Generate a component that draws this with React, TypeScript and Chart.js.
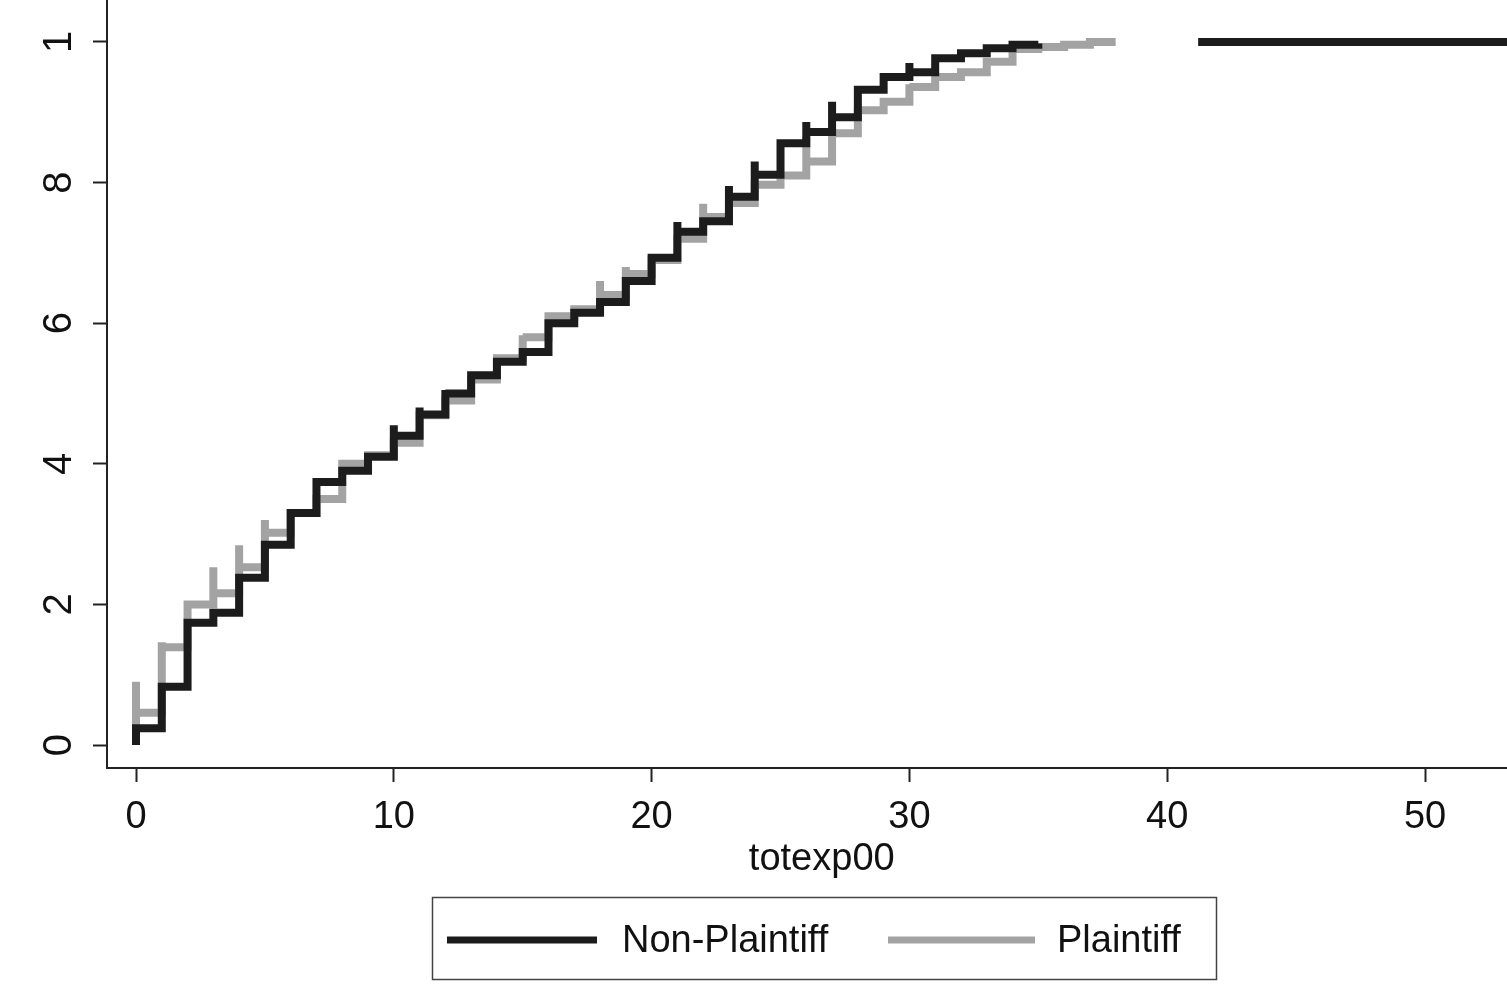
import React, { useEffect, useRef } from "react";
import { Chart, registerables } from "chart.js";

Chart.register(...registerables);

// ---- data ----
const xSteps = [
  0, 1, 2, 3, 4, 5, 6, 7, 8, 9, 10, 11, 12, 13, 14, 15, 16, 17, 18, 19,
  20, 21, 22, 23, 24, 25, 26, 27, 28, 29, 30, 31, 32, 33, 34, 35, 36, 37, 38,
];

const nonPlaintiffLevels = [
  0.024, 0.083, 0.174, 0.188, 0.238, 0.285, 0.33, 0.374, 0.39, 0.41,
  0.44, 0.47, 0.5, 0.526, 0.545, 0.559, 0.6, 0.615, 0.63, 0.66,
  0.693, 0.73, 0.745, 0.78, 0.811, 0.856, 0.872, 0.893, 0.932, 0.95,
  0.957, 0.977, 0.984, 0.991, 0.996, 0.998,
];
const nonPlaintiffPeaks = [
  null, null, null, null, null, null, null, null, null, null,
  0.455, 0.48, 0.505, null, null, null, null, null, null, null,
  null, 0.744, null, 0.795, 0.83, null, 0.886, 0.915, null, null,
  0.97, null, null, null, null, null,
];
const nonPlaintiffTailX = [41.2, 55];
const nonPlaintiffTailY = [1, 1];

const plaintiffLevels = [
  0.046, 0.139, 0.2, 0.216, 0.253, 0.302, 0.33, 0.35, 0.4, 0.412,
  0.43, 0.469, 0.49, 0.52, 0.55, 0.58, 0.61, 0.62, 0.64, 0.67,
  0.69, 0.72, 0.751, 0.771, 0.797, 0.81, 0.83, 0.87, 0.903, 0.915,
  0.936, 0.95, 0.957, 0.972, 0.99, 0.993, 0.996, 1.0, 1.0,
];
const plaintiffPeaks = [
  0.09, 0.146, null, 0.253, 0.284, 0.32, null, null, null, null,
  null, null, null, null, null, 0.583, null, null, 0.66, 0.68,
  null, null, 0.77, null, null, null, 0.865, 0.878, 0.907, null,
  0.94, null, null, null, null, null, null, null, null,
];

const seriesNames = ["Non-Plaintiff", "Plaintiff"];
const xTickValues = [0, 10, 20, 30, 40, 50];
const yTickValues = [0, 0.2, 0.4, 0.6, 0.8, 1];
const yTickLabels = ["0", "2", "4", "6", "8", "1"];
const xAxisTitle = "totexp00";

const BLACK = "#1c1c1c";
const GRAY = "#a3a3a3";
const FONT = '"Liberation Sans", Arial, sans-serif';

type Pt = { x: number; y: number | null };

function buildSteps(levels: number[], peaks: (number | null)[]): Pt[] {
  const pts: Pt[] = [{ x: xSteps[0], y: 0 }];
  levels.forEach((lv, i) => {
    const x = xSteps[i];
    const pk = peaks[i];
    if (pk !== null && pk !== undefined) pts.push({ x, y: pk });
    pts.push({ x, y: lv });
  });
  return pts;
}

const overlayPlugin = {
  id: "overlay",
  afterDraw(chart: any) {
    const ctx: CanvasRenderingContext2D = chart.ctx;
    const ys = chart.scales.y;
    const xs = chart.scales.x;
    ctx.save();
    // rotated y tick labels
    ctx.font = `40px ${FONT}`;
    ctx.fillStyle = "#111";
    ctx.textAlign = "center";
    ctx.textBaseline = "middle";
    yTickValues.forEach((v, i) => {
      const py = ys.getPixelForValue(v);
      ctx.save();
      ctx.translate(60, py);
      ctx.rotate(-Math.PI / 2);
      ctx.fillText(yTickLabels[i], 0, 0);
      ctx.restore();
    });

    // x axis title
    ctx.font = `38px ${FONT}`;
    ctx.textAlign = "center";
    ctx.textBaseline = "alphabetic";
    ctx.fillText(xAxisTitle, xs.getPixelForValue(26.6), 870);

    // legend box
    ctx.strokeStyle = "#444";
    ctx.lineWidth = 1.5;
    ctx.strokeRect(432.5, 897.5, 784, 82);
    const ly = 940;
    const items = [
      { color: BLACK, x0: 447, x1: 597, tx: 622, w: 7 },
      { color: GRAY, x0: 888, x1: 1035, tx: 1057, w: 7 },
    ];
    items.forEach((it, i) => {
      ctx.strokeStyle = it.color;
      ctx.lineWidth = it.w;
      ctx.beginPath();
      ctx.moveTo(it.x0, ly);
      ctx.lineTo(it.x1, ly);
      ctx.stroke();
      ctx.fillStyle = "#111";
      ctx.font = `38px ${FONT}`;
      ctx.textAlign = "left";
      ctx.textBaseline = "middle";
      ctx.fillText(seriesNames[i], it.tx, ly + 2);
    });
    ctx.restore();
  },
};

export default function App() {
  const ref = useRef<HTMLCanvasElement | null>(null);

  useEffect(() => {
    document.body.style.margin = "0";
    const canvas = ref.current;
    if (!canvas) return;

    const black = buildSteps(nonPlaintiffLevels, nonPlaintiffPeaks);
    black.push({ x: 38, y: null });
    nonPlaintiffTailX.forEach((x, i) => black.push({ x, y: nonPlaintiffTailY[i] }));
    const gray = buildSteps(plaintiffLevels, plaintiffPeaks);

    const chart = new Chart(canvas, {
      type: "line",
      data: {
        datasets: [
          {
            label: seriesNames[0],
            data: black as any,
            borderColor: BLACK,
            borderWidth: 8,
            pointRadius: 0,
            stepped: "before",
            spanGaps: false,
            borderJoinStyle: "miter",
            borderCapStyle: "butt",
          },
          {
            label: seriesNames[1],
            data: gray as any,
            borderColor: GRAY,
            borderWidth: 8,
            pointRadius: 0,
            stepped: "before",
            borderJoinStyle: "miter",
            borderCapStyle: "butt",
          },
        ],
      },
      options: {
        animation: false,
        responsive: false,
        layout: { padding: 0 },
        plugins: {
          legend: { display: false },
          tooltip: { enabled: false },
        },
        scales: {
          x: {
            type: "linear",
            min: -1.125,
            max: 53.18,
            afterBuildTicks: (s: any) => {
              s.ticks = xTickValues.map((v) => ({ value: v }));
            },
            afterFit: (s: any) => {
              s.height = 218;
            },
            grid: {
              drawOnChartArea: false,
              drawTicks: true,
              tickLength: 14,
              tickWidth: 2,
              tickColor: "#222",
            },
            border: { display: true, color: "#222", width: 2 },
            ticks: {
              color: "#111",
              font: { size: 38, family: FONT },
              padding: 13,
              maxRotation: 0,
              minRotation: 0,
              callback: (v: any) => String(v),
            },
            title: { display: false },
          },
          y: {
            type: "linear",
            min: -0.0327,
            max: 1.0597,
            afterBuildTicks: (s: any) => {
              s.ticks = yTickValues.map((v) => ({ value: v }));
            },
            afterFit: (s: any) => {
              s.width = 107;
            },
            grid: {
              drawOnChartArea: false,
              drawTicks: true,
              tickLength: 14,
              tickWidth: 2,
              tickColor: "#222",
            },
            border: { display: true, color: "#222", width: 2 },
            ticks: { display: false },
          },
        },
      },
      plugins: [overlayPlugin],
    });

    return () => chart.destroy();
  }, []);

  return (
    <div style={{ width: 1507, height: 986 }}>
      <canvas ref={ref} width={1507} height={986} style={{ display: "block" }} />
    </div>
  );
}
